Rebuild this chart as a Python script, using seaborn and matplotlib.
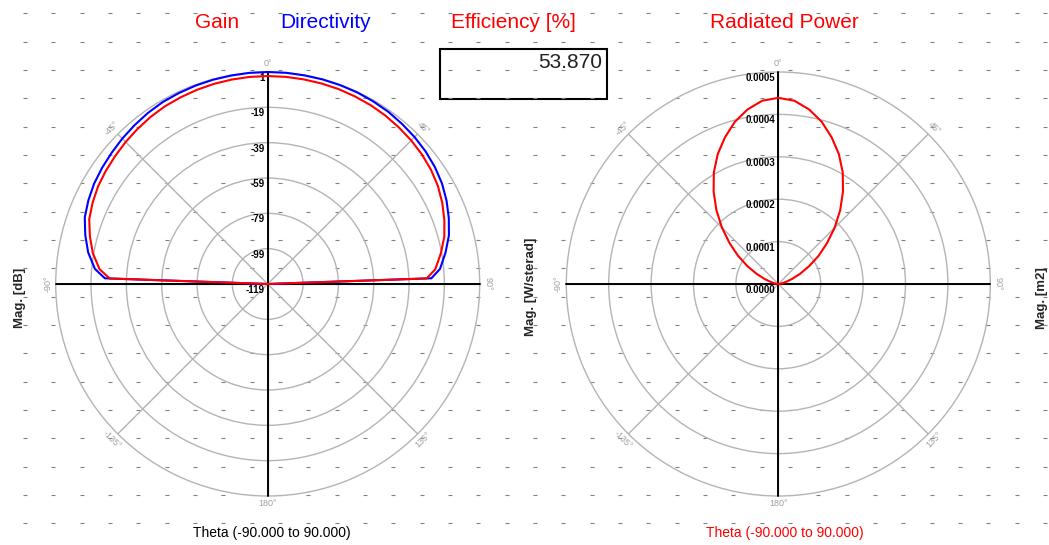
import numpy as np
import pandas as pd
import matplotlib
matplotlib.use("Agg")
import matplotlib.pyplot as plt
import matplotlib.patches as mpatches
from matplotlib.transforms import offset_copy
import seaborn as sns

# --- data ---
# gain / directivity pattern, theta in degrees, magnitude in dB
theta_db = [-90, -88, -85, -80, -75, -70, -65, -60, -55, -50, -45, -40, -35, -30, -25, -20, -15, -10, -5, 0,
            5, 10, 15, 20, 25, 30, 35, 40, 45, 50, 55, 60, 65, 70, 75, 80, 85, 88, 90]
gain_db = [-119, -29.5, -23.5, -18.5, -14.8, -11.5, -9.7, -8.2, -7.2, -6.3, -5.3, -4.4, -3.5, -2.8, -2.4,
           -2.0, -1.7, -1.5, -1.35, -1.3,
           -1.3, -1.4, -1.5, -1.6, -1.9, -2.2, -2.7, -3.4, -4.1, -5.0, -6.2, -7.8, -10.0, -12.6, -15.5,
           -19.5, -23.8, -29.0, -119]
directivity_db = [-119, -26.8, -20.8, -15.8, -12.1, -8.8, -7.0, -5.5, -4.5, -3.6, -2.6, -1.7, -0.8, -0.1, 0.2,
                  0.5, 0.7, 0.8, 0.95, 1.0,
                  1.0, 0.9, 0.9, 0.8, 0.7, 0.4, 0.0, -0.7, -1.4, -2.3, -3.5, -5.1, -7.3, -9.9, -12.8,
                  -16.8, -21.1, -26.3, -119]
db_rings = [1, -19, -39, -59, -79, -99, -119]

# radiated power pattern, W/sterad
theta_pw = [-90, -85, -80, -75, -70, -65, -60, -55, -50, -45, -40, -35, -30, -25, -20, -15, -10, -5, 0,
            5, 10, 15, 20, 25, 30, 35, 40, 45, 50, 55, 60, 65, 70, 75, 80, 85, 90]
power = [0.0, 0.02e-4, 0.08e-4, 0.18e-4, 0.34e-4, 0.56e-4, 0.84e-4, 1.16e-4, 1.50e-4, 1.88e-4,
         2.27e-4, 2.66e-4, 3.04e-4, 3.38e-4, 3.68e-4, 3.96e-4, 4.18e-4, 4.34e-4, 4.39e-4,
         4.34e-4, 4.18e-4, 3.96e-4, 3.68e-4, 3.38e-4, 3.04e-4, 2.66e-4, 2.27e-4, 1.88e-4,
         1.50e-4, 1.16e-4, 0.84e-4, 0.56e-4, 0.34e-4, 0.18e-4, 0.08e-4, 0.02e-4, 0.0]
pw_rings = [0.0005, 0.0004, 0.0003, 0.0002, 0.0001, 0.0]
pw_ring_labels = ["0.0005", "0.0004", "0.0003", "0.0002", "0.0001", "0.0000"]

angle_ticks = [0, 45, 90, 135, 180, -135, -90, -45]
efficiency = "53.870"

sns.set_theme(style="white")
plt.rcParams['font.family'] = ['Liberation Sans', 'DejaVu Sans']

W, H = 1049, 545
fig = plt.figure(figsize=(W / 100, H / 100), dpi=100)
fig.patch.set_facecolor('white')

# background with dotted grid, pixel coordinates
bg = fig.add_axes([0, 0, 1, 1], zorder=0)
bg.set_xlim(0, W)
bg.set_ylim(H, 0)
bg.axis('off')
gx, gy = np.meshgrid(25 + 28.33 * np.arange(37), 13.3 + 28.33 * np.arange(19))
bg.plot(gx.ravel(), gy.ravel(), ls='none', marker='_', ms=2.4, mew=0.8, color='#808080')
bg.add_patch(mpatches.Rectangle((440, 48.5), 166.5, 50, fill=False, ec='black', lw=1.5))
bg.text(602, 63, efficiency, ha='right', va='center', fontsize=15, color='#202020')

R = 212.0


def make_polar(cx, cy):
    ax = fig.add_axes([(cx - R) / W, (H - cy - R) / H, 2 * R / W, 2 * R / H],
                      projection='polar', zorder=1)
    ax.patch.set_alpha(0)
    ax.set_theta_zero_location('N')
    ax.set_theta_direction(-1)
    ax.set_xticks(np.deg2rad(np.arange(0, 360, 45)))
    ax.set_xticklabels([])
    ax.grid(True, color='#b4b4b4', lw=1)
    ax.spines['polar'].set_color('#b4b4b4')
    ax.spines['polar'].set_linewidth(1)
    return ax


def decorate(ax, rmin, rmax, rings, ring_labels):
    ax.set_ylim(rmin, rmax)
    ax.set_yticks(rings[1:-1])
    ax.set_yticklabels([])
    for a in [0, 90, 180, 270]:
        ax.axvline(np.deg2rad(a), color='black', lw=1.4, zorder=3)
    tr = offset_copy(ax.transData, fig=fig, x=-3, y=-6, units='dots')
    for v, lab in zip(rings, ring_labels):
        ax.text(0, v, lab, transform=tr, ha='right', va='center', fontsize=7,
                fontweight='bold', color='black', zorder=4, clip_on=False)
    rl = rmax + 8 * (rmax - rmin) / R
    for a in angle_ticks:
        rot = -a if abs(a) <= 90 else (-a + 180 if a > 0 else -a - 180)
        ax.text(np.deg2rad(a), rl, f"{a}°", ha='center', va='center', rotation=rot,
                fontsize=6.5, color='#a0a0a0', clip_on=False)
    for line in ax.get_lines():
        line.set_clip_on(False)
    ax.set_xlabel('')
    ax.set_ylabel('')


# left: gain and directivity in dB
ax1 = make_polar(267.7, 284.0)
df_db = pd.DataFrame({'theta': np.deg2rad(theta_db), 'gain': gain_db, 'dir': directivity_db})
sns.lineplot(data=df_db, x='theta', y='dir', ax=ax1, sort=False, estimator=None,
             color='#0000ff', lw=1.5, legend=False, zorder=5)
sns.lineplot(data=df_db, x='theta', y='gain', ax=ax1, sort=False, estimator=None,
             color='#ff0000', lw=1.5, legend=False, zorder=6)
decorate(ax1, -119, 1, db_rings, [str(v) for v in db_rings])

# right: radiated power
ax2 = make_polar(778.3, 284.0)
df_pw = pd.DataFrame({'theta': np.deg2rad(theta_pw), 'power': power})
sns.lineplot(data=df_pw, x='theta', y='power', ax=ax2, sort=False, estimator=None,
             color='#ff0000', lw=1.5, legend=False, zorder=5)
decorate(ax2, 0, 0.0005, pw_rings, pw_ring_labels)

# titles and labels
def ftext(x, y, s, **kw):
    fig.text(x / W, 1 - y / H, s, **kw)

ftext(195, 23, "Gain", color='#ff0000', fontsize=15, ha='left', va='center')
ftext(280, 23, "Directivity", color='#0000ff', fontsize=15, ha='left', va='center')
ftext(451, 23, "Efficiency [%]", color='#ff0000', fontsize=15, ha='left', va='center')
ftext(784, 23, "Radiated Power", color='#ff0000', fontsize=15, ha='center', va='center')

ftext(272, 533, "Theta (-90.000 to 90.000)", color='black', fontsize=10, ha='center', va='center')
ftext(785, 533, "Theta (-90.000 to 90.000)", color='#ff0000', fontsize=10, ha='center', va='center')

ftext(20, 298, "Mag. [dB]", rotation=90, fontsize=9.5, fontweight='bold', ha='center', va='center')
ftext(531, 287, "Mag. [W/sterad]", rotation=90, fontsize=9.5, fontweight='bold', ha='center', va='center')
ftext(1042, 298, "Mag. [m2]", rotation=90, fontsize=9.5, fontweight='bold', ha='center', va='center')

fig.savefig('out.png', dpi=100, facecolor='white')
